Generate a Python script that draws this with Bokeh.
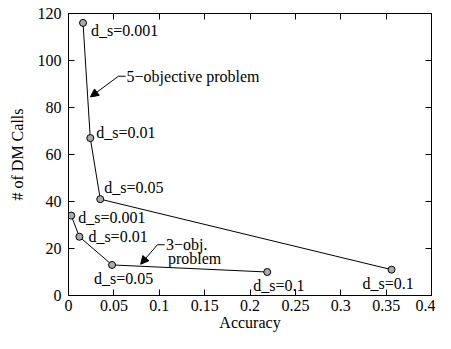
from bokeh.plotting import figure
from bokeh.models import LinearAxis, FixedTicker, Range1d, Arrow, NormalHead, ColumnDataSource
from bokeh.core.properties import value
from bokeh.embed import file_html
from bokeh.resources import INLINE

# ---- data ----
acc5 = [0.016, 0.024, 0.035, 0.356]
calls5 = [116, 67, 41, 11]
lab5 = ["d_s=0.001", "d_s=0.01", "d_s=0.05", "d_s=0.1"]

acc3 = [0.003, 0.012, 0.048, 0.219]
calls3 = [34, 25, 13, 10]
lab3 = ["d_s=0.001", "d_s=0.01", "d_s=0.05", "d_s=0.1"]

xticks = [0, 0.05, 0.1, 0.15, 0.2, 0.25, 0.3, 0.35, 0.4]
xtick_labels = ["0", "0.05", "0.1", "0.15", "0.2", "0.25", "0.3", "0.35", "0.4"]
yticks = [0, 20, 40, 60, 80, 100, 120]
ytick_labels = ["0", "20", "40", "60", "80", "100", "120"]

# ---- layout / style ----
FONT = "Liberation Serif"
FS = "16px"
# pixel offsets of point labels (dx, dy downwards)
off5 = [(8, 8), (6, -6), (4, -12), (-29, 14)]
off3 = [(7, 2), (9, 0), (-18, 14), (-14, 13)]

p = figure(width=435, height=333, output_backend="svg", toolbar_location=None,
           x_range=Range1d(0, 0.4), y_range=Range1d(0, 120),
           min_border_left=68, min_border_right=4, min_border_top=13, min_border_bottom=36)
p.background_fill_color = "white"
p.border_fill_color = "white"
p.xgrid.visible = False
p.ygrid.visible = False
p.outline_line_color = "black"
p.outline_line_width = 1

p.xaxis.ticker = FixedTicker(ticks=xticks)
p.yaxis.ticker = FixedTicker(ticks=yticks)
p.xaxis.major_label_overrides = {t: l for t, l in zip(xticks, xtick_labels)}
p.yaxis.major_label_overrides = {t: l for t, l in zip(yticks, ytick_labels)}
p.xaxis.axis_label = "Accuracy"
p.yaxis.axis_label = "# of DM Calls"
for ax in (p.xaxis[0], p.yaxis[0]):
    ax.major_tick_in = 6
    ax.major_tick_out = 0
    ax.minor_tick_line_color = None
    ax.axis_line_color = "black"
    ax.major_tick_line_color = "black"
    ax.major_label_text_font = FONT
    ax.major_label_text_font_size = FS
    ax.major_label_text_color = "black"
    ax.axis_label_text_font = FONT
    ax.axis_label_text_font_size = FS
    ax.axis_label_text_font_style = "normal"
    ax.axis_label_text_color = "black"
p.xaxis.major_label_standoff = 4
p.xaxis.axis_label_standoff = 0
p.yaxis.major_label_standoff = 7
p.yaxis.axis_label_standoff = 9

top = LinearAxis(ticker=FixedTicker(ticks=xticks), major_tick_in=6, major_tick_out=0,
                 minor_tick_line_color=None, major_label_text_font_size="1px",
                 major_label_text_color=None, major_label_standoff=0, axis_line_color="black")
right = LinearAxis(ticker=FixedTicker(ticks=yticks), major_tick_in=6, major_tick_out=0,
                   minor_tick_line_color=None, major_label_text_font_size="1px",
                   major_label_text_color=None, major_label_standoff=0, axis_line_color="black")
p.add_layout(top, "above")
p.add_layout(right, "right")

for xs, ys, labs, offs in ((acc5, calls5, lab5, off5), (acc3, calls3, lab3, off3)):
    p.line(xs, ys, line_color="black", line_width=1)
    p.scatter(xs, ys, size=7, fill_color="#aaaaaa", line_color="black", line_width=1)
    src = ColumnDataSource(dict(x=xs, y=ys, t=labs,
                                dx=[o[0] for o in offs], dy=[o[1] for o in offs]))
    p.text(x="x", y="y", text="t", x_offset="dx", y_offset="dy", source=src,
           text_font=value(FONT), text_font_size=FS, text_color="black",
           text_align="left", text_baseline="middle")

# annotation arrows (data units)
# 5-objective
p.line([0.063, 0.055], [93.3, 93.3], line_color="black", line_width=1)
p.add_layout(Arrow(x_start=0.055, y_start=93.3, x_end=0.0242, y_end=84.5,
                   line_color="black", line_width=1,
                   end=NormalHead(size=8, fill_color="black", line_color="black")))
p.text(x=[0.064], y=[93.3], text=["5\u2212objective problem"], text_font=value(FONT),
       text_font_size=FS, text_color="black", text_align="left", text_baseline="middle")
# 3-objective
p.line([0.106, 0.098], [21.6, 21.6], line_color="black", line_width=1)
p.add_layout(Arrow(x_start=0.098, y_start=21.6, x_end=0.0795, y_end=13.3,
                   line_color="black", line_width=1,
                   end=NormalHead(size=8, fill_color="black", line_color="black")))
p.text(x=[0.1074, 0.1096], y=[21.6, 15.9], text=["3\u2212obj.", "problem"], text_font=value(FONT),
       text_font_size=FS, text_color="black", text_align="left", text_baseline="middle")

open("out.html", "w").write(file_html(p, INLINE))
